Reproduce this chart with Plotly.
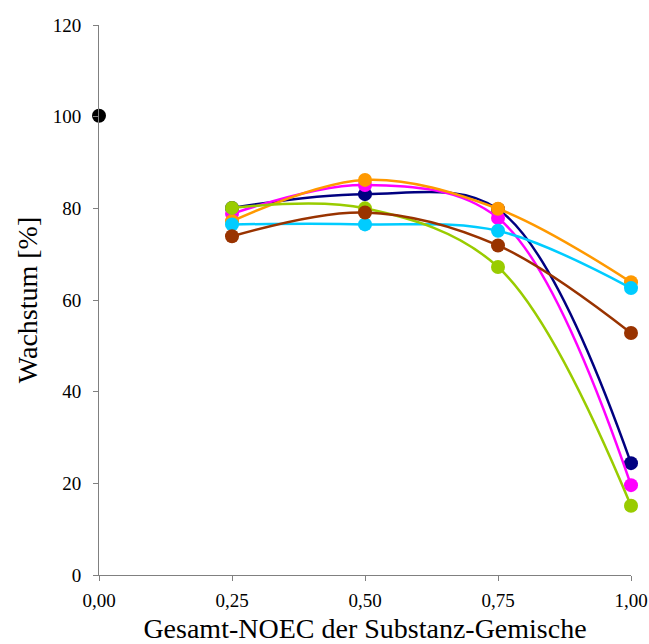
import plotly.graph_objects as go

x_mix = [0.25, 0.5, 0.75, 1.0]
control_x = [0.0]
control_y = [100.2]

navy = [80.1, 83.1, 79.8, 24.4]
magenta = [78.8, 85.1, 77.9, 19.6]
orange = [77.2, 86.2, 79.9, 63.9]
cyan = [76.5, 76.5, 75.1, 62.6]
yellowgreen = [80.1, 80.0, 67.2, 15.1]
brown = [73.9, 79.1, 71.9, 52.8]

series = [
    ("navy", navy, "#000080"),
    ("magenta", magenta, "#FF00FF"),
    ("orange", orange, "#FF9900"),
    ("cyan", cyan, "#00CCFF"),
    ("yellowgreen", yellowgreen, "#99CC00"),
    ("brown", brown, "#993300"),
]

x_ticks = [0, 0.25, 0.5, 0.75, 1.0]
y_ticks = [0, 20, 40, 60, 80, 100, 120]

fig = go.Figure()
for name, ys, col in series:
    fig.add_trace(go.Scatter(
        x=x_mix, y=ys, name=name, mode="lines+markers",
        line=dict(color=col, width=2.5, shape="spline", smoothing=1),
        marker=dict(color=col, size=14),
        cliponaxis=False,
    ))
fig.add_trace(go.Scatter(
    x=control_x, y=control_y, mode="markers", name="Kontrolle",
    marker=dict(color="black", size=14), cliponaxis=False,
))

font_family = "'Liberation Serif', 'Times New Roman', Times, serif"
fig.update_layout(
    width=649, height=644,
    margin=dict(l=99, r=18, t=25, b=69),
    plot_bgcolor="white", paper_bgcolor="white",
    showlegend=False,
    separators=",.",
    font=dict(family=font_family, color="black", size=19),
    xaxis=dict(
        range=[0, 1], tickvals=x_ticks, tickformat=".2f",
        showgrid=False, zeroline=False, automargin=False,
        showline=True, linecolor="#808080", linewidth=1,
        ticks="outside", ticklen=5, tickcolor="#808080",
        ticklabelstandoff=3,
        tickfont=dict(size=19, family=font_family),
        title=dict(text="Gesamt-NOEC der Substanz-Gemische",
                   font=dict(size=28, family=font_family), standoff=10),
    ),
    yaxis=dict(
        range=[0, 120], tickvals=y_ticks,
        showgrid=False, zeroline=False, automargin=False,
        showline=True, linecolor="#808080", linewidth=1,
        ticks="outside", ticklen=5, tickcolor="#808080",
        ticklabelstandoff=8,
        tickfont=dict(size=19, family=font_family),
        title=dict(text="Wachstum [%]",
                   font=dict(size=28, family=font_family), standoff=6),
    ),
)
fig.write_html(
    "out.html",
    config={"displayModeBar": False},
    post_script="document.body.style.margin='0';document.body.style.overflow='hidden';",
)
